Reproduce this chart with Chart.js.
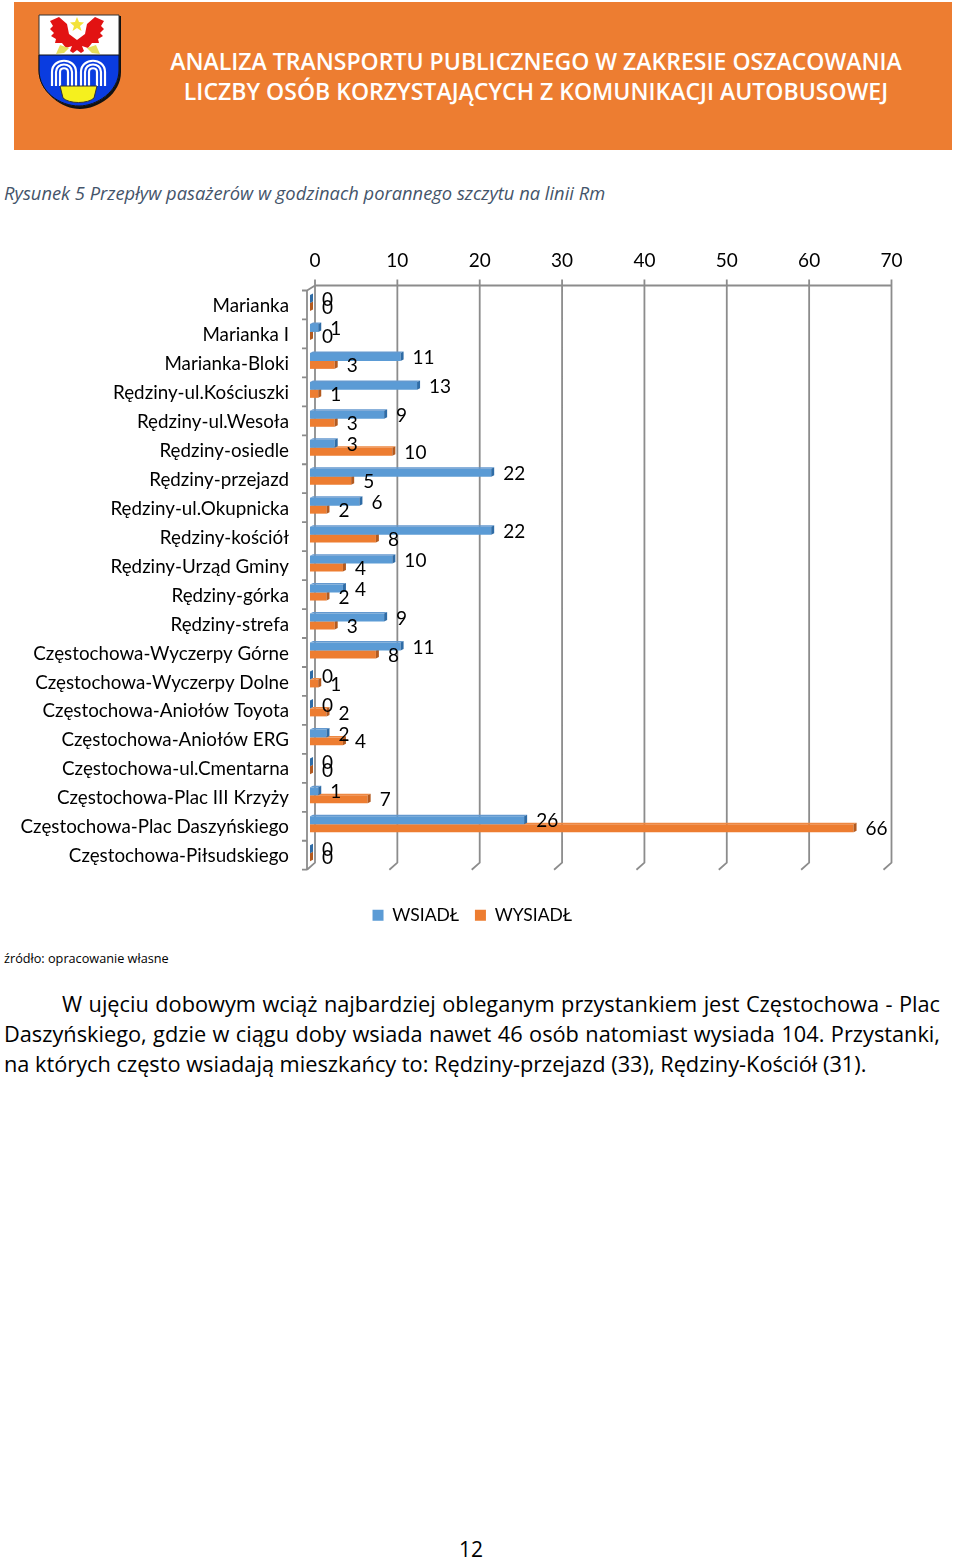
<!DOCTYPE html>
<html lang="pl">
<head>
<meta charset="utf-8">
<title>Rysunek 5</title>
<script src="https://cdn.jsdelivr.net/npm/chart.js@4"></script>
<style>
  html, body { margin: 0; padding: 0; background: #fff; }
  body { position: relative; width: 960px; height: 1558px; overflow: hidden; font-family: "Open Sans", sans-serif; color: #000; }
  #banner { position: absolute; left: 14px; top: 2px; width: 938px; height: 148px; background: #ED7D31; }
  #crest { position: absolute; left: 36px; top: 12px; }
  .head { position: absolute; left: 120px; width: 832px; text-align: center; color: #fff; font-weight: 600; font-size: 23.05px; line-height: 30px; white-space: nowrap; }
  #caption { position: absolute; left: 4px; top: 180px; font-style: italic; font-size: 18.33px; line-height: 26px; color: #44546A; white-space: nowrap; }
  #chartBox { position: absolute; left: 0; top: 230px; }
  #source { position: absolute; left: 4px; top: 949px; font-size: 12.7px; line-height: 18px; white-space: nowrap; }
  .para { position: absolute; left: 4px; width: 936px; font-size: 21.75px; line-height: 30px; text-align: justify; text-align-last: justify; white-space: nowrap; }
  #pageNo { position: absolute; left: 459px; top: 1534px; font-size: 21px; line-height: 30px; }
</style>
</head>
<body>
<div id="banner"></div>
<svg id="crest" width="86" height="98" viewBox="0 0 86 98">
  <path d="M4 4H85V60C85 82 62 97 44 97C26 97 5 82 5 60Z" fill="#111"/>
  <path d="M3 3H83V58C83 80 60 94 43 94C24 94 3 80 3 58Z" fill="#fff" stroke="#333" stroke-width="1"/>
  <path d="M3 43H83V58C83 80 60 94 43 94C24 94 3 80 3 58Z" fill="#0A3CE0" stroke="#111" stroke-width="1"/>
  <path d="M41 28L33 22L31 12L23 5L14 9L17 14L14 17L18 21L15 24L20 27L19 31L26 31L30 36L36 34L34 39L37 41L41 38L45 41L48 39L46 34L52 36L56 31L63 31L62 27L67 24L64 21L68 17L65 14L68 9L59 5L51 12L49 22Z" fill="#E21212"/>
  <path d="M41 5L43 10L48 10.500L44 14L45.500 19L41 16L36.500 19L38 14L34 10.500L39 10Z" fill="#F3E23A"/>
  <path d="M24 33L33 36L28 41L20 42ZM60 33L51 36L56 41L64 42Z" fill="#E6DE5A"/>
  <g fill="none" stroke="#fff" stroke-width="2.200">
    <path d="M16 74V60C16 45 40 45 40 60V74"/><path d="M20 74V60C20 50 36 50 36 60V74"/><path d="M24 74V60C24 55 32 55 32 60V74"/>
    <path d="M45 74V60C45 45 69 45 69 60V74"/><path d="M49 74V60C49 50 65 50 65 60V74"/><path d="M53 74V60C53 55 61 55 61 60V74"/>
  </g>
  <path d="M24 74H61L58 86C52 92 33 92 27 86Z" fill="#F5F01E" stroke="#333" stroke-width="1"/>
</svg>
<div class="head" style="top:46px">ANALIZA TRANSPORTU PUBLICZNEGO W ZAKRESIE OSZACOWANIA</div>
<div class="head" style="top:76px">LICZBY OSÓB KORZYSTAJĄCYCH Z KOMUNIKACJI AUTOBUSOWEJ</div>
<div id="caption">Rysunek 5 Przepływ pasażerów w godzinach porannego szczytu na linii Rm</div>
<div id="chartBox"><canvas id="flowChart" width="944" height="704"></canvas></div>
<div id="source">źródło: opracowanie własne</div>
<div class="para" style="top:989px;left:62px;width:878px">W ujęciu dobowym wciąż najbardziej obleganym przystankiem jest Częstochowa - Plac</div>
<div class="para" style="top:1019px">Daszyńskiego, gdzie w ciągu doby wsiada nawet 46 osób natomiast wysiada 104. Przystanki,</div>
<div class="para" style="top:1049px;text-align-last:left">na których często wsiadają mieszkańcy to: Rędziny-przejazd (33), Rędziny-Kościół (31).</div>
<div id="pageNo">12</div>

<script>
const stops = [
  "Marianka", "Marianka I", "Marianka-Bloki", "Rędziny-ul.Kościuszki", "Rędziny-ul.Wesoła",
  "Rędziny-osiedle", "Rędziny-przejazd", "Rędziny-ul.Okupnicka", "Rędziny-kościół", "Rędziny-Urząd Gminy",
  "Rędziny-górka", "Rędziny-strefa", "Częstochowa-Wyczerpy Górne", "Częstochowa-Wyczerpy Dolne", "Częstochowa-Aniołów Toyota",
  "Częstochowa-Aniołów ERG", "Częstochowa-ul.Cmentarna", "Częstochowa-Plac III Krzyży", "Częstochowa-Plac Daszyńskiego", "Częstochowa-Piłsudskiego"
];
const boarding = [0, 1, 11, 13, 9, 3, 22, 6, 22, 10, 4, 9, 11, 0, 0, 2, 0, 1, 26, 0];
const alighting = [0, 0, 3, 1, 3, 10, 5, 2, 8, 4, 2, 3, 8, 1, 2, 4, 0, 7, 66, 0];

const font = "Lato, 'Open Sans', sans-serif";
const fontSize = 19;
const wallColor = "#8C8C8C";
const sideColors = ["#2F6CA6", "#B35A1F"];
const topColors = ["#6499CF", "#EE8842"];

// pseudo 3D: bars sit in front of the back wall, like the office chart
const shiftX = -5, shiftY = -2, depthX = 3, depthY = 1.5, wallX = 8, wallY = 7;

const walls3d = {
  id: "walls3d",
  afterLayout(chart) {
    // long stop names run left of the padded box, keep them from being clipped
    chart.scales.y.left = 0;
  },
  beforeDatasetsDraw(chart) {
    const { ctx, chartArea, scales } = chart;
    const top = chartArea.top - 5, floor = chartArea.bottom - wallY;
    ctx.save();
    ctx.strokeStyle = wallColor;
    ctx.lineWidth = 1.8;
    ctx.beginPath();
    scales.x.ticks.forEach(t => {
      const x = scales.x.getPixelForValue(t.value);
      ctx.moveTo(x, top - 6);
      ctx.lineTo(x, floor);
      ctx.lineTo(x - wallX, chartArea.bottom);
    });
    ctx.moveTo(chartArea.left, top);
    ctx.lineTo(chartArea.right, top);
    ctx.moveTo(chartArea.left, top);
    ctx.lineTo(chartArea.left - wallX, chartArea.top);
    ctx.lineTo(chartArea.left - wallX, chartArea.bottom);
    const band = scales.y.getPixelForValue(1) - scales.y.getPixelForValue(0);
    for (let i = 0; i <= stops.length; i++) {
      const y = scales.y.getPixelForValue(0) - band / 2 + i * band;
      ctx.moveTo(chartArea.left - wallX - 5, y);
      ctx.lineTo(chartArea.left - wallX, y);
    }
    ctx.stroke();
    ctx.restore();
  },
  beforeDatasetDraw(chart) {
    chart.ctx.save();
    chart.ctx.translate(shiftX, shiftY);
  },
  afterDatasetDraw(chart, args) {
    const ctx = chart.ctx;
    args.meta.data.forEach(bar => {
      const t = bar.y - bar.height / 2, b = bar.y + bar.height / 2;
      ctx.fillStyle = topColors[args.index];
      ctx.beginPath();
      ctx.moveTo(bar.base, t);
      ctx.lineTo(bar.base + depthX, t - depthY);
      ctx.lineTo(bar.x + depthX, t - depthY);
      ctx.lineTo(bar.x, t);
      ctx.fill();
      ctx.fillStyle = sideColors[args.index];
      ctx.beginPath();
      ctx.moveTo(bar.x, t);
      ctx.lineTo(bar.x + depthX, t - depthY);
      ctx.lineTo(bar.x + depthX, b - depthY);
      ctx.lineTo(bar.x, b);
      ctx.fill();
    });
    ctx.restore();
  },
  afterDatasetsDraw(chart) {
    const ctx = chart.ctx;
    ctx.save();
    ctx.font = fontSize + "px " + font;
    ctx.fillStyle = "#000";
    ctx.textAlign = "left";
    ctx.textBaseline = "middle";
    chart.data.datasets.forEach((ds, i) => {
      chart.getDatasetMeta(i).data.forEach((bar, j) => {
        ctx.fillText(ds.data[j], bar.x + 7, bar.y - 1);
      });
    });
    ctx.restore();
  }
};

new Chart(document.getElementById("flowChart"), {
  type: "bar",
  data: {
    labels: stops,
    datasets: [
      { label: "WSIADŁ", data: boarding, backgroundColor: "#5B9BD5" },
      { label: "WYSIADŁ", data: alighting, backgroundColor: "#ED7D31" }
    ]
  },
  plugins: [walls3d],
  options: {
    indexAxis: "y",
    responsive: false,
    animation: false,
    events: [],
    layout: { padding: { left: 53, right: 52.5, top: 0, bottom: 0 } },
    datasets: { bar: { categoryPercentage: 0.55, barPercentage: 1, clip: false, borderWidth: 0 } },
    scales: {
      x: {
        position: "top",
        min: 0,
        max: 70,
        afterFit(scale) { scale.height = 60.5; },
        grid: { display: false, drawTicks: false },
        border: { display: false },
        ticks: { stepSize: 10, padding: 18, maxRotation: 0, color: "#000", font: { family: font, size: fontSize } }
      },
      y: {
        afterFit(scale) { scale.width = 262; },
        grid: { display: false, drawTicks: false },
        border: { display: false },
        ticks: { padding: 26, labelOffset: 1, autoSkip: false, color: "#000", font: { family: font, size: 18.8 } }
      }
    },
    plugins: {
      tooltip: { enabled: false },
      legend: {
        position: "bottom",
        title: { display: true, text: " ", font: { size: 10 }, padding: { top: 8.8, bottom: 0 } },
        labels: { boxWidth: 11, boxHeight: 11, padding: 16, color: "#000", font: { family: font, size: 17.5 } }
      }
    }
  }
});
</script>
</body>
</html>
